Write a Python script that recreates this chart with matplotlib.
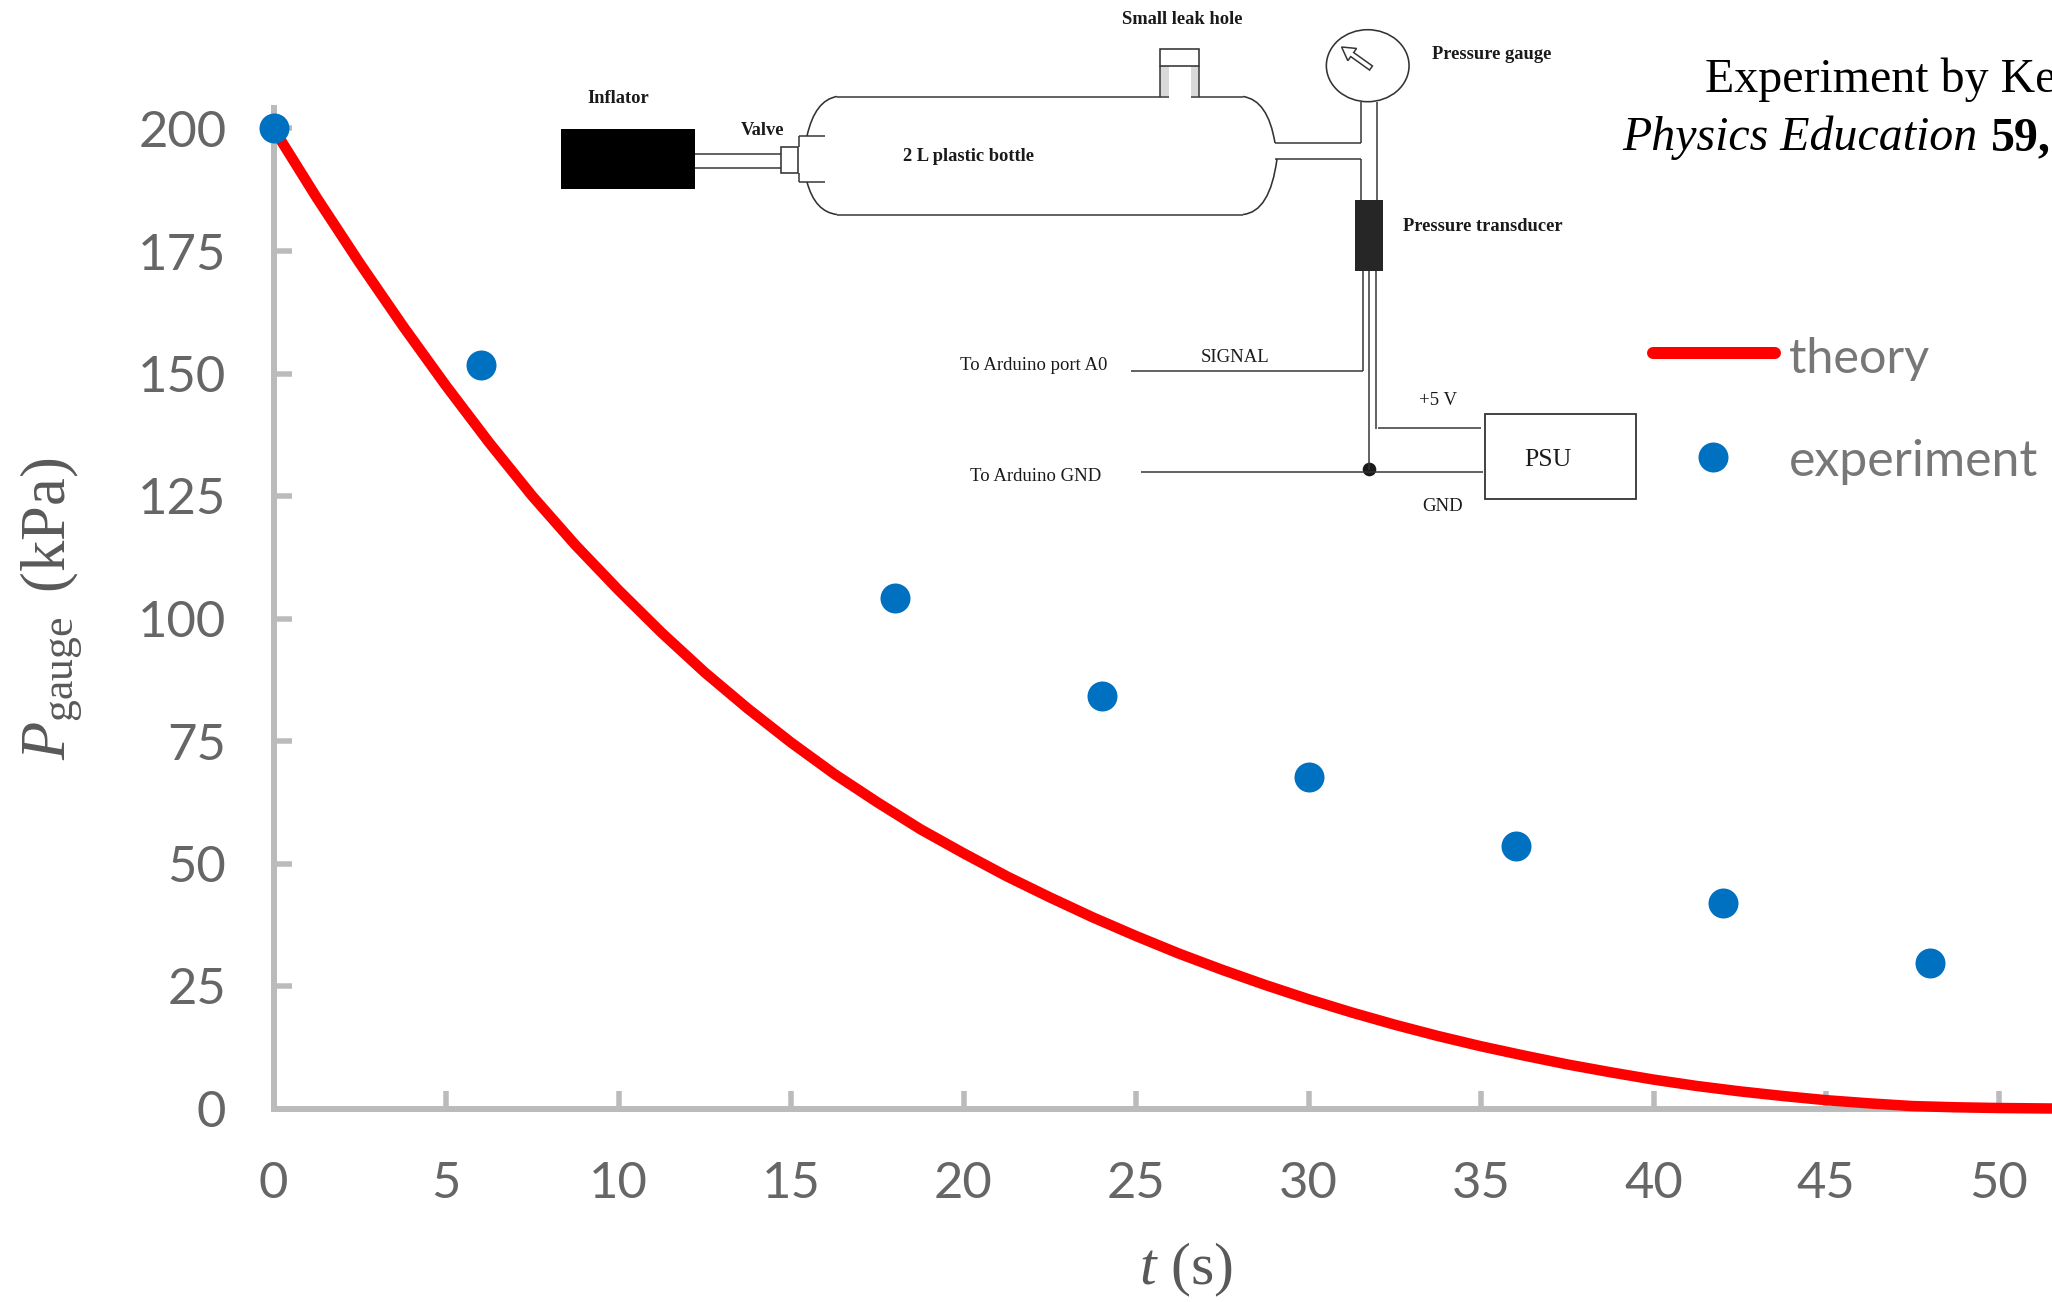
import matplotlib
matplotlib.use("Agg")
import matplotlib.pyplot as plt
from matplotlib.patches import Rectangle, Ellipse, PathPatch, FancyArrow
from matplotlib.path import Path

plt.rcParams["font.family"] = ["Lato", "DejaVu Sans"]
plt.rcParams["mathtext.fontset"] = "custom"
plt.rcParams["mathtext.rm"] = "Liberation Serif"
plt.rcParams["mathtext.it"] = "Liberation Serif:italic"
plt.rcParams["mathtext.bf"] = "Liberation Serif:bold"

# values
theory_t = [0, 1.25, 2.5, 3.75, 5, 6.25, 7.5, 8.75, 10, 11.25, 12.5, 13.75, 15, 16.25, 17.5, 18.75, 20, 21.25, 22.5,
            23.75, 25, 26.25, 27.5, 28.75, 30, 31.25, 32.5, 33.75, 35, 36.25, 37.5, 38.75, 40, 41.25, 42.5, 43.75,
            45, 46.25, 47.5, 48.75, 50, 51.55]
theory_p = [200, 185.9, 172.5, 159.7, 147.5, 135.9, 125, 115, 105.8, 97.1, 89, 81.6, 74.7, 68.3, 62.5, 57, 52.1, 47.4, 43.1,
            39, 35.2, 31.6, 28.3, 25.2, 22.3, 19.6, 17.1, 14.8, 12.7, 10.8, 9, 7.4, 5.9, 4.6, 3.5, 2.55,
            1.7, 1.05, 0.5, 0.25, 0.1, 0]
exp_t = [0, 6, 18, 24, 30, 36, 42, 48]
exp_p = [200, 151.7, 104.2, 84.2, 67.6, 53.5, 42, 29.7]
x_ticks = [0, 5, 10, 15, 20, 25, 30, 35, 40, 45, 50]
y_ticks = [0, 25, 50, 75, 100, 125, 150, 175, 200]

W, H = 2052, 1302
GREY_AXIS = "#BBBBBB"
GREY_TEXT = "#595959"
BLUE = "#0070C0"
SERIF = "Liberation Serif"
DARK = "#333333"


def px(v):
    # pixels to points at dpi 100
    return v * 0.72


def lines(ov, segs, color=DARK, lw=1.5):
    for (x0, y0), (x1, y1) in segs:
        ov.plot([x0, x1], [y0, y1], color=color, lw=px(lw), solid_capstyle="butt")


def curve(ov, p0, c, p1):
    path = Path([p0, c, p1], [Path.MOVETO, Path.CURVE3, Path.CURVE3])
    ov.add_patch(PathPatch(path, fill=False, ec=DARK, lw=px(1.6)))


def label(ov, x, y, s, size=13.3, weight="normal", ha="left"):
    ov.text(x, y + 1.5, s, family=SERIF, fontsize=size, fontweight=weight, color="#1a1a1a", ha=ha, va="center")


def draw_diagram(ov):
    # inflator and valve
    ov.add_patch(Rectangle((561, 129), 134, 60, fc="black", ec="none"))
    lines(ov, [((695, 154), (781, 154)), ((695, 168), (781, 168))])
    ov.add_patch(Rectangle((781, 147), 17, 26, fc="white", ec=DARK, lw=px(1.6)))
    lines(ov, [((799, 136), (825, 136)), ((799, 136), (799, 147)),
               ((799, 173), (799, 182)), ((799, 182), (825, 182))])

    # bottle
    lines(ov, [((837, 96.5), (1169, 96.5)), ((1191, 96.5), (1243, 96.5)), ((837, 214.5), (1243, 214.5))])
    curve(ov, (837, 96.5), (815, 100), (807, 136))
    curve(ov, (807, 182), (815, 212), (837, 214.5))
    curve(ov, (1243, 96.5), (1268, 100), (1275, 143))
    curve(ov, (1277, 159), (1270, 212), (1243, 214.5))

    # leak hole
    ov.add_patch(Rectangle((1159.5, 66), 9.5, 30, fc="#D9D9D9", ec="none"))
    ov.add_patch(Rectangle((1191, 66), 8, 30, fc="#D9D9D9", ec="none"))
    ov.add_patch(Rectangle((1159.5, 48.5), 39.5, 17.5, fc="white", ec=DARK, lw=px(1.6)))
    lines(ov, [((1159.5, 66), (1159.5, 96.5)), ((1199, 66), (1199, 96.5))])

    # gauge and pipes
    ov.add_patch(Ellipse((1367.7, 65.7), 82.7, 72, fc="white", ec=DARK, lw=px(1.6)))
    ov.add_patch(FancyArrow(1371, 68, -29.4, -21, width=5, head_width=15, head_length=13,
                            length_includes_head=True, fc="white", ec=DARK, lw=px(1.5)))
    lines(ov, [((1275, 143), (1361, 143)), ((1275, 159), (1361, 159)), ((1361, 102), (1361, 143)),
               ((1361, 159), (1361, 200)), ((1377, 102), (1377, 200))])

    # transducer and wiring
    ov.add_patch(Rectangle((1355, 200), 28.4, 70.7, fc="#262626", ec="none"))
    lines(ov, [((1362.5, 271), (1362.5, 371)), ((1362.5, 371), (1131, 371)),
               ((1369.3, 271), (1369.3, 470)),
               ((1376, 271), (1376, 429)), ((1378, 427.7), (1481, 427.7)),
               ((1141, 471.7), (1483, 471.7))])
    ov.add_patch(Ellipse((1369.5, 469.5), 13.6, 13.6, fc="#1a1a1a", ec="none"))
    ov.add_patch(Rectangle((1484.7, 413.7), 151.7, 85.6, fc="white", ec=DARK, lw=px(1.8)))

    label(ov, 587, 97, "Inflator", weight="bold")
    label(ov, 741, 129, "Valve", weight="bold")
    label(ov, 903, 155, "2 L plastic bottle", weight="bold")
    label(ov, 1122, 18, "Small leak hole", weight="bold")
    label(ov, 1432, 53, "Pressure gauge", weight="bold")
    label(ov, 1403, 225, "Pressure transducer", weight="bold")
    label(ov, 960, 364, "To Arduino port A0", size=13.5)
    label(ov, 1201, 356, "SIGNAL", size=13.5)
    label(ov, 1419, 399, "+5 V", size=13.5)
    label(ov, 1524, 458, "PSU", size=18.5)
    label(ov, 970, 475, "To Arduino GND", size=13.5)
    label(ov, 1422, 505, "GND", size=13.5)


def draw_key(ov):
    ov.plot([1653, 1775], [352.7, 352.7], color="red", lw=px(12), solid_capstyle="round")
    ov.plot([1713], [457], "o", color=BLUE, ms=px(30), mec="none")
    ov.text(1789, 373, "theory", fontsize=35, color="#777777", va="baseline")
    ov.text(1789, 476, "experiment", fontsize=36, color="#777777", va="baseline")

    ov.text(1705, 92, "Experiment by Ke", family=SERIF, fontsize=34.5, color="black", va="baseline")
    ov.text(1622, 150, "Physics Education", family=SERIF, style="italic", fontsize=34.5, color="black", va="baseline")
    ov.text(1991, 150, "59,", family=SERIF, fontweight="bold", fontsize=34.5, color="black", va="baseline")


def main():
    fig = plt.figure(figsize=(W / 100, H / 100), dpi=100, facecolor="white")

    left, right, bottom, top = 273.5, W, 1108.5, 108
    ax = fig.add_axes([left / W, 1 - bottom / H, (right - left) / W, (bottom - top) / H])
    ax.set_xlim(0, (right - left) / 34.5)
    ax.set_ylim(0, (bottom - top) / 4.9)

    ax.plot(theory_t, theory_p, color="red", lw=px(10.5), clip_on=False, zorder=3, solid_capstyle="butt")
    ax.plot(exp_t, exp_p, "o", color=BLUE, ms=px(30), mec="none", clip_on=False, zorder=4)

    for side in ["top", "right"]:
        ax.spines[side].set_visible(False)
    for side in ["left", "bottom"]:
        ax.spines[side].set_color(GREY_AXIS)
        ax.spines[side].set_linewidth(px(6))

    ax.set_xticks(x_ticks)
    ax.set_yticks(y_ticks)
    ax.tick_params(direction="in", length=px(18), width=px(5.5), color=GREY_AXIS,
                   labelsize=36.5, labelcolor="#666666")
    ax.tick_params(axis="x", pad=38)
    ax.tick_params(axis="y", pad=34)

    ax.set_xlabel("$t$ (s)", family=SERIF, fontsize=43, color=GREY_TEXT)
    ax.set_ylabel(r"$P_{\mathrm{gauge}}\,$ (kPa)", family=SERIF, fontsize=45, color=GREY_TEXT)
    ax.xaxis.set_label_coords((1186 - left) / (right - left), (bottom - 1241) / (bottom - top), transform=ax.transAxes)
    ax.yaxis.set_label_coords((84 - left) / (right - left), (bottom - 609) / (bottom - top), transform=ax.transAxes)

    ov = fig.add_axes([0, 0, 1, 1], facecolor="none")
    ov.set_xlim(0, W)
    ov.set_ylim(H, 0)
    ov.axis("off")
    draw_diagram(ov)
    draw_key(ov)

    fig.savefig("out.png", dpi=100)
    plt.close(fig)


if __name__ == "__main__":
    main()
